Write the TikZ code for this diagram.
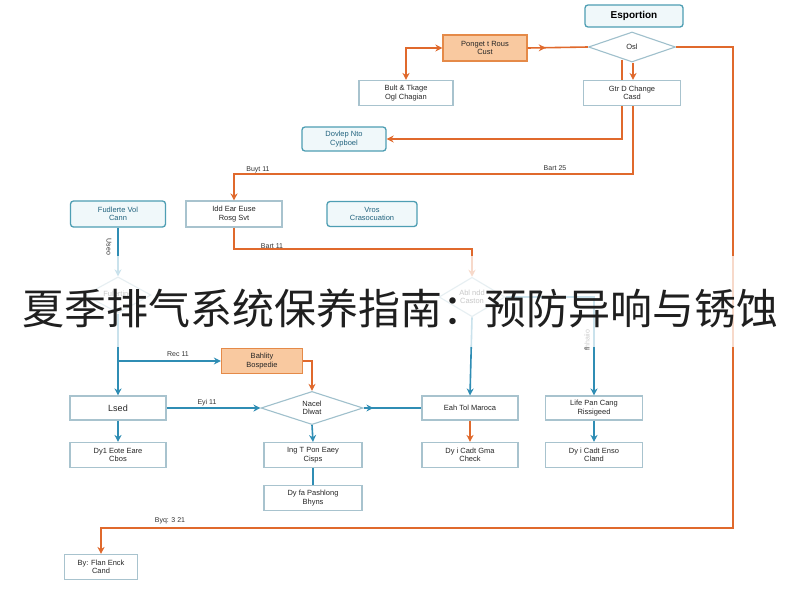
\documentclass[tikz,border=0pt]{standalone}
\usepackage{fontspec}
\setmainfont{Liberation Sans}
\newfontfamily\cjk{Noto Sans CJK SC}
\usetikzlibrary{shapes.geometric,arrows.meta,decorations.markings}
\definecolor{orln}{HTML}{E0692C}
\definecolor{orfill}{HTML}{F9C9A0}
\definecolor{orbd}{HTML}{E58A48}
\definecolor{tlln}{HTML}{2F8DB4}
\definecolor{tlbd}{HTML}{4E9EB3}
\definecolor{tlfill}{HTML}{F0F8FA}
\definecolor{plbd}{HTML}{A8C3CE}
\definecolor{dmbd}{HTML}{9FC0CC}
\tikzset{
  base/.style={font=\fontsize{7.5}{8.5}\selectfont, align=center, inner sep=1pt, text=black!85},
  plainbox/.style={base, draw=plbd, line width=1.1pt, fill=white, minimum width=96pt, minimum height=25pt},
  tealbox/.style={base, draw=tlbd, line width=1.3pt, fill=tlfill, rounded corners=3pt, minimum width=90pt, minimum height=25pt, text=tlln!70!black},
  orbox/.style={base, draw=orbd, line width=1.3pt, fill=orfill, minimum width=84pt, minimum height=26pt},
  dia/.style={base, diamond, draw=dmbd, line width=1.1pt, fill=white, inner sep=0pt},
  oline/.style={draw=orln, line width=1.6pt},
  tline/.style={draw=tlln, line width=1.6pt},
  tip/.style={-{Stealth[length=7pt,width=7pt]}},
  lbl/.style={font=\fontsize{7}{8}\selectfont, text=black!80, inner sep=1pt},
  midarrow/.style={postaction={decorate, decoration={markings, mark=at position #1 with {\arrow{Stealth[length=7pt,width=7pt]}}}}}
}
\begin{document}
\begin{tikzpicture}[x=1pt,y=-1pt]
\useasboundingbox (0,0) rectangle (800,600);
\fill[white] (0,0) rectangle (800,600);

% nodes
\node[tealbox, minimum width=98pt, minimum height=22pt, font=\bfseries\fontsize{10}{11}\selectfont, text=black] (esp) at (634,16) {Esportion};
\node[dia, minimum width=87pt, minimum height=30pt] (d1) at (632,47) {Osl};
\node[orbox] (o1) at (485,48) {Ponget t Rous\\Cust};
\node[plainbox, minimum width=94pt] (b1) at (406,93) {Bult \& Tkage\\Ogl Chagian};
\node[plainbox, minimum width=97pt] (b2) at (632,93) {Gtr D Change\\Casd};
\node[tealbox, minimum width=84pt, minimum height=24pt] (t1) at (344,139) {Dovlep Nto\\Cypboel};
\node[tealbox, minimum width=95pt, minimum height=26pt] (t2) at (118,214) {Fudlerte Vol\\Cann};
\node[plainbox, minimum height=26pt] (b3) at (234,214) {Idd Ear Euse\\Rosg Svt};
\node[tealbox, minimum width=90pt] (t3) at (372,214) {Vros\\Crasocuation};
\node[dia, minimum width=66pt, minimum height=30pt] (d2) at (118,295) {Fulerting};
\node[dia, minimum width=66pt, minimum height=34pt] (d3) at (472,297) {Abl ndd\\Caston};
\node[orbox, minimum width=81pt, minimum height=25pt] (o2) at (262,361) {Bahlity\\Bospedie};
\node[plainbox, minimum height=24pt, font=\fontsize{9}{10}\selectfont] (b4) at (118,408) {Lsed};
\node[dia, minimum width=102pt, minimum height=31pt] (d4) at (312,408) {Nacel\\Dlwat};
\node[plainbox, minimum height=24pt] (b5) at (470,408) {Eah Tol Maroca};
\node[plainbox, minimum width=97pt, minimum height=24pt] (b6) at (594,408) {Life Pan Cang\\Rissigeed};
\node[plainbox] (b7) at (118,455) {Dy1 Eote Eare\\Cbos};
\node[plainbox, minimum width=98pt] (b8) at (313,455) {Ing T Pon Eaey\\Cisps};
\node[plainbox, minimum width=98pt] (b9) at (313,498) {Dy fa Pashlong\\Bhyns};
\node[plainbox] (b10) at (470,455) {Dy i Cadt Gma\\Check};
\node[plainbox, minimum width=97pt] (b11) at (594,455) {Dy i Cadt Enso\\Cland};
\node[plainbox, minimum width=73pt] (b12) at (101,567) {By: Flan Enck\\Cand};

% coordinates
\coordinate (c1) at (733,528);
\coordinate (c3) at (633,174);
\coordinate (c4) at (118,361);
\coordinate (c5) at (234,249);

% orange connectors (top)
\draw[oline, midarrow=0.3] (o1.east) -- (d1.west);
\draw[oline, {Stealth[length=7pt,width=7pt]}-{Stealth[length=7pt,width=7pt]}] (o1.west) -| (b1.north);
\draw[oline] ([xshift=-10pt]d1.south) ++(0,-3) -- ([xshift=-10pt]b2.north);
\draw[oline, tip] ([xshift=1pt]d1.south) -- ([xshift=1pt]b2.north);
\draw[oline, tip] ([xshift=-10pt]b2.south) |- (t1.east);
\draw[oline, tip] ([xshift=1pt]b2.south) |- (c3) -| (b3.north);
\draw[oline, tip] (d1.east) -| (c1) -| (b12.north);
\node[lbl] (l1) at (555,168) {Bart 25};
\node[lbl] (l2) at (258,170) {Buyt 11};
\node[lbl] (l3) at (170,521) {Byq: 3 21};

% left branch
\draw[tline, tip] (t2.south) -- (d2.north);
\node[lbl, rotate=-90] (l4) at (109,247) {Useo};
\draw[tline] (d2.south) -- (c4);
\draw[tline, tip] (c4) -- (b4.north);
\draw[tline, tip] (c4) -- (o2.west);
\node[lbl] (l5) at (178,354) {Rec 11};
\draw[oline, tip] (o2.east) -| (d4.north);
\draw[tline, tip] (b4.east) -- (d4.west);
\node[lbl] (l6) at (207,403) {Eyi 11};
\draw[tline, midarrow=0.17] (d4.east) -- (b5.west);
\draw[tline, tip] (b4.south) -- (b7.north);
\draw[tline, tip] (d4.south) -- (b8.north);
\draw[tline] (b8.south) -- (b9.north);

% middle branch
\draw[oline, tip] (b3.south) |- (c5) -| (d3.north);
\node[lbl] (l7) at (272,246) {Bart 11};
\draw[tline, tip] (d3.south) -- (b5.north);
\draw[tline, tip] (d3.east) -| (b6.north);
\node[lbl, rotate=90] (l8) at (587,340) {fhhaiio};
\draw[oline, tip] (b5.south) -- (b10.north);
\draw[tline, tip] (b6.south) -- (b11.north);

% title banner
\fill[white, opacity=0.75] (0,256) rectangle (800,347);
\node[font=\cjk\fontsize{42}{46}\selectfont, text=black!88, inner sep=0pt] (title) at (400,308) {夏季排气系统保养指南：预防异响与锈蚀};
\end{tikzpicture}
\end{document}
